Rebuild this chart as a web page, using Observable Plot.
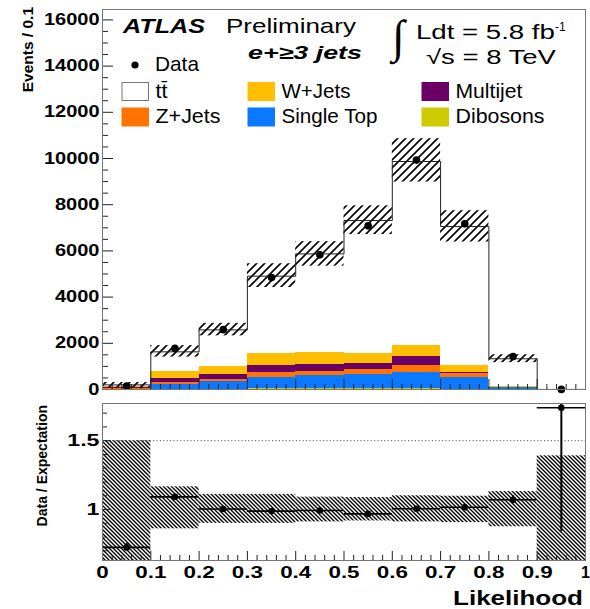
<!DOCTYPE html>
<html><head><meta charset="utf-8">
<script src="https://cdn.jsdelivr.net/npm/d3@7"></script>
<script src="https://cdn.jsdelivr.net/npm/@observablehq/plot@0.6"></script>
<style>
body{margin:0;background:#fff;}
#chart{position:relative;width:590px;height:609px;overflow:hidden;background:#fff;}
#chart svg{position:absolute;left:0;}
</style></head><body><div id="chart"></div>
<script>
// ---------------- data ----------------
const binEdges   = [0, 0.1, 0.2, 0.3, 0.4, 0.5, 0.6, 0.7, 0.8, 0.9, 1.0];
const dataCounts = [145, 1780, 2590, 4850, 5830, 7085, 9930, 7170, 1425, 4];
const ttbar      = [78, 850, 1585, 3335, 4270, 5770, 7950, 6030, 1200, 1.5];
const wJets      = [15, 290, 360, 530, 520, 435, 490, 275, 40, 0.3];
const multijet   = [80, 200, 205, 320, 300, 245, 390, 70, 10, 0];
const zJets      = [10, 75, 70, 190, 175, 230, 290, 150, 10, 0];
const singleTop  = [15, 205, 345, 505, 580, 610, 720, 510, 65, 0.5];
const dibosons   = [2, 10, 15, 25, 25, 25, 30, 20, 5, 0];
// relative systematic band (ratio units)
const bandHigh   = [1.50, 1.165, 1.11, 1.11, 1.09, 1.087, 1.10, 1.097, 1.13, 1.39];
const bandLow    = [0.40, 0.86, 0.90, 0.90, 0.91, 0.917, 0.91, 0.905, 0.875, 0.45];
const ratioErr   = [0.03, 0.01, 0.01, 0.01, 0.01, 0.01, 0.01, 0.01, 0.03, 0.9];
const componentNames  = ["Dibosons", "Single Top", "Z+Jets", "Multijet", "W+Jets", "tt\u0304"];
const componentColors = ["#cccc00", "#0a78ff", "#ff7300", "#6a0066", "#ffbf00", "#ffffff"];
const componentValues = [dibosons, singleTop, zJets, multijet, wJets, ttbar];
const yTicks      = [0, 2000, 4000, 6000, 8000, 10000, 12000, 14000, 16000];
const ratioTicks  = [1, 1.5];
const xTicks      = [0, 0.1, 0.2, 0.3, 0.4, 0.5, 0.6, 0.7, 0.8, 0.9, 1];

// ---------------- derived tables ----------------
const FONT = "Liberation Sans, Arial, Helvetica, sans-serif";
const bins = dataCounts.map((d, i) => {
  const total = componentValues.reduce((s, arr) => s + arr[i], 0);
  return {x1: binEdges[i], x2: binEdges[i + 1], mid: (binEdges[i] + binEdges[i + 1]) / 2,
          data: d, total, ratio: d / total, hi: bandHigh[i], lo: bandLow[i], err: ratioErr[i]};
});
const stackRows = [];
bins.forEach((b, i) => {
  let cum = 0;
  componentValues.forEach((arr, c) => {
    stackRows.push({name: componentNames[c], x1: b.x1, x2: b.x2, y1: cum, y2: cum + arr[i]});
    cum += arr[i];
  });
});
const stepPts = [{x: binEdges[0], y: 0}, ...bins.map(b => ({x: b.x1, y: b.total})),
                 {x: binEdges[binEdges.length - 1], y: bins[bins.length - 1].total},
                 {x: binEdges[binEdges.length - 1], y: 0}];
const minorY = d3.range(0, 16500, 500).filter(v => v % 2000 !== 0);
const minorX = d3.range(0, 101, 2).map(v => v / 100).filter(v => Math.round(v * 100) % 10 !== 0);
const minorR = [0.7, 0.8, 0.9, 1.1, 1.2, 1.3, 1.4, 1.6, 1.7];

const chart = document.getElementById("chart");
const W = 590, ML = 102, MR = 5;

function stretchLabels(svg, sel, k, skip = []) {
  d3.select(svg).selectAll(sel).each(function () {
    if (skip.includes(this.textContent)) return;
    let x = parseFloat(this.getAttribute("x"));
    if (!isFinite(x)) x = 0;
    const tr = this.getAttribute("transform") || "";
    this.setAttribute("transform", `${tr} translate(${x},0) scale(${k},1) translate(${-x},0)`);
  });
}
function addPattern(svg, id, size, d, sw) {
  const defs = d3.select(svg).insert("defs", ":first-child");
  defs.append("pattern").attr("id", id).attr("patternUnits", "userSpaceOnUse")
    .attr("width", size).attr("height", size)
    .append("path").attr("d", d).attr("stroke", "#000").attr("stroke-width", sw).attr("fill", "none");
}

// ---------------- top panel ----------------
const topH = 395, topMT = 9, topMB = 6;
const topInner = topH - topMT - topMB;
const topPlot = Plot.plot({
  width: W, height: topH, marginLeft: ML, marginRight: MR, marginTop: topMT, marginBottom: topMB,
  style: {fontFamily: FONT, background: "transparent", overflow: "visible"},
  x: {domain: [0, 1], axis: null},
  y: {domain: [0, 16450], axis: null},
  color: {domain: componentNames, range: componentColors},
  marks: [
    Plot.rect(stackRows, {x1: "x1", x2: "x2", y1: "y1", y2: "y2", fill: "name", shapeRendering: "crispEdges"}),
    Plot.rect(bins, {x1: "x1", x2: "x2", y1: d => d.total * d.lo, y2: d => d.total * d.hi, fill: "url(#hatchTop)"}),
    Plot.line(stepPts, {x: "x", y: "y", curve: "step-after", stroke: "#222", strokeWidth: 1}),
    Plot.tickY(yTicks, {y: d => d, insetRight: W - ML - MR - 11, stroke: "#222"}),
    Plot.tickY(minorY, {y: d => d, insetRight: W - ML - MR - 6, stroke: "#222"}),
    Plot.tickX(xTicks, {x: d => d, insetTop: topInner - 10, stroke: "#222"}),
    Plot.tickX(minorX, {x: d => d, insetTop: topInner - 5, stroke: "#222"}),
    Plot.dot(bins, {x: "mid", y: "data", r: 3.8, fill: "#000", stroke: "none"}),
    Plot.frame({stroke: "#777"}),
    Plot.axisY(yTicks, {tickSize: 0, tickPadding: 3, fontSize: 16, fontWeight: "bold", label: null, tickFormat: d => String(d), fill: "#000"})
  ]
});
addPattern(topPlot, "hatchTop", 8, "M-2,2 L2,-2 M0,8 L8,0 M6,10 L10,6", 1.6);
topPlot.style.top = "0px";
chart.appendChild(topPlot);
stretchLabels(topPlot, 'g[aria-label="y-axis tick label"] text', 1.25);

// ---------------- ratio panel ----------------
const botTop = 395, botH = 214, botMT = 8, botMB = 49;
const botInner = botH - botMT - botMB;
const botPlot = Plot.plot({
  width: W, height: botH, marginLeft: ML, marginRight: MR, marginTop: botMT, marginBottom: botMB,
  style: {fontFamily: FONT, background: "transparent", overflow: "visible"},
  x: {domain: [0, 1], axis: null},
  y: {domain: [0.63, 1.77], axis: null},
  marks: [
    Plot.rect(bins, {x1: "x1", x2: "x2", y1: "lo", y2: "hi", fill: "url(#hatchRatio)", clip: true}),
    Plot.ruleY([1.5], {stroke: "#555", strokeDasharray: "1.2,2.2"}),
    Plot.tickY(ratioTicks, {y: d => d, insetRight: W - ML - MR - 9, stroke: "#222"}),
    Plot.tickY(minorR, {y: d => d, insetRight: W - ML - MR - 5, stroke: "#222"}),
    Plot.tickX(xTicks, {x: d => d, insetTop: botInner - 9, stroke: "#222"}),
    Plot.tickX(minorX, {x: d => d, insetTop: botInner - 5, stroke: "#222"}),
    Plot.ruleY(bins, {y: "ratio", x1: "x1", x2: "x2", stroke: "#000", strokeWidth: 1.6}),
    Plot.ruleX(bins, {x: "mid", y1: d => d.ratio - d.err, y2: d => d.ratio + d.err, stroke: "#000", strokeWidth: 2, clip: true}),
    Plot.dot(bins, {x: "mid", y: "ratio", r: 3.3, fill: "#000", stroke: "none"}),
    Plot.frame({stroke: "#777"}),
    Plot.axisY(ratioTicks, {tickSize: 0, tickPadding: 3, fontSize: 16, fontWeight: "bold", label: null, tickFormat: d3.format("~g"), fill: "#000"}),
    Plot.axisX(xTicks, {tickSize: 0, tickPadding: 6, fontSize: 16, fontWeight: "bold", label: null, tickFormat: d3.format("~g"), fill: "#000"})
  ]
});
addPattern(botPlot, "hatchRatio", 4, "M-1,-1 L5,5 M-1,3 L1,5 M3,-1 L5,1", 1.35);
botPlot.style.top = botTop + "px";
chart.appendChild(botPlot);
stretchLabels(botPlot, 'g[aria-label="y-axis tick label"] text', 1.45);
stretchLabels(botPlot, 'g[aria-label="x-axis tick label"] text', 1.4, ["1"]);

// ---------------- annotations & legend ----------------
const ov = d3.select(chart).append("svg").attr("width", W).attr("height", 609)
  .style("top", "0px").style("pointer-events", "none");
function addText({x, y, text, size, weight = "normal", style = "normal", anchor = "start", width = null, rotate = 0, family = FONT}) {
  const t = ov.append("text").attr("font-size", size).attr("font-weight", weight).attr("font-style", style)
    .attr("text-anchor", anchor).attr("font-family", family).attr("fill", "#000").text(text);
  let k = 1;
  if (width) { const L = t.node().getComputedTextLength(); if (L > 0) k = width / L; }
  t.attr("transform", `translate(${x},${y})` + (rotate ? ` rotate(${rotate})` : "") + (k !== 1 ? ` scale(${k},1)` : ""));
  return t;
}
addText({x: 33, y: 7, text: "Events / 0.1", size: 15.5, weight: "bold", anchor: "end", rotate: -90});
addText({x: 47, y: 405, text: "Data / Expectation", size: 14, weight: "bold", anchor: "end", rotate: -90});
addText({x: 583, y: 604.5, text: "Likelihood", size: 20, weight: "bold", anchor: "end", width: 130});

addText({x: 123, y: 33, text: "ATLAS", size: 20, weight: "bold", style: "italic", width: 82});
addText({x: 226, y: 33, text: "Preliminary", size: 20, width: 130});
addText({x: 248, y: 58.5, text: "e+\u22653 jets", size: 18, weight: "bold", style: "italic", width: 114});
addText({x: 392, y: 52, text: "\u222B", size: 46, family: "Liberation Serif, serif"});
addText({x: 416, y: 38.5, text: "Ldt = 5.8 fb", size: 21, width: 139});
addText({x: 555, y: 31, text: "-1", size: 12});
addText({x: 426, y: 63.5, text: "\u221As = 8 TeV", size: 20, width: 130});

// legend
ov.append("circle").attr("cx", 135).attr("cy", 65).attr("r", 3.6).attr("fill", "#000");
addText({x: 155, y: 71, text: "Data", size: 20, width: 44});
const legendItems = [
  {name: "tt\u0304", col: 0, row: 0}, {name: "W+Jets", col: 1, row: 0}, {name: "Multijet", col: 2, row: 0},
  {name: "Z+Jets", col: 0, row: 1}, {name: "Single Top", col: 1, row: 1}, {name: "Dibosons", col: 2, row: 1}
];
const legendWidths = {"tt\u0304": 12, "W+Jets": 69, "Multijet": 67, "Z+Jets": 65, "Single Top": 96, "Dibosons": 89};
const colX = [122, 248, 422], rowY = [82.5, 108], rowBase = [97.5, 122.7];
legendItems.forEach(it => {
  const c = componentColors[componentNames.indexOf(it.name)];
  ov.append("rect").attr("x", colX[it.col]).attr("y", rowY[it.row]).attr("width", 26.5).attr("height", 18)
    .attr("fill", c).attr("stroke", it.name === "tt\u0304" ? "#777" : c).attr("stroke-width", 1);
  addText({x: colX[it.col] + 33.5, y: rowBase[it.row], text: it.name, size: 19.5, width: legendWidths[it.name]});
});
</script>
</body></html>
